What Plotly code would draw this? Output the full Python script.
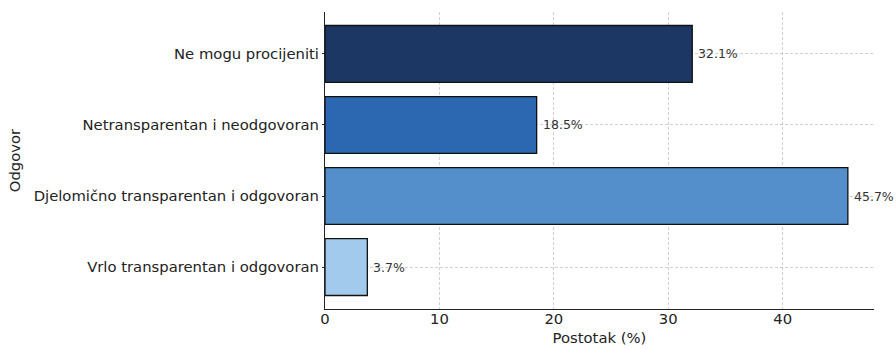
import plotly.graph_objects as go

# Survey answers, bottom to top
categories = [
    "Vrlo transparentan i odgovoran",
    "Djelomično transparentan i odgovoran",
    "Netransparentan i neodgovoran",
    "Ne mogu procijeniti",
]
percentages = [3.7, 45.7, 18.5, 32.1]
bar_colors = ["#a1caec", "#548ecb", "#2b68b1", "#1c3764"]
x_ticks = [0, 10, 20, 30, 40]

FONT = "DejaVu Sans"
TXT = "#222222"
GRID = "rgba(150,150,150,0.45)"

fig = go.Figure()
fig.add_trace(go.Bar(
    y=categories,
    x=percentages,
    orientation="h",
    width=0.8,
    marker=dict(color=bar_colors, line=dict(color="#111111", width=1.3)),
    hoverinfo="skip",
))

# value labels just right of each bar end
for cat, val in zip(categories, percentages):
    fig.add_annotation(
        x=val, y=cat, text=f"{val}%",
        xanchor="left", yanchor="middle", xshift=4, showarrow=False,
        font=dict(family=FONT, size=12.5, color="#333333"),
    )

xmax = max(percentages) * 1.05
fig.update_layout(
    width=896,
    height=349,
    margin=dict(l=325, r=22, t=12, b=40),
    plot_bgcolor="white",
    paper_bgcolor="white",
    showlegend=False,
    font=dict(family=FONT, size=14.8, color=TXT),
)
fig.update_xaxes(
    range=[0, xmax],
    tickvals=x_ticks,
    ticks="",
    ticklabelstandoff=-4,
    tickfont=dict(family=FONT, size=14.8, color=TXT),
    showline=True,
    linecolor=TXT,
    linewidth=1.2,
    showgrid=True,
    gridcolor=GRID,
    griddash="3px,2px",
    gridwidth=0.8,
    zeroline=False,
    layer="above traces",
    automargin=False,
    title=dict(text="Postotak (%)", font=dict(family=FONT, size=14.8, color=TXT), standoff=6),
)
fig.update_yaxes(
    range=[-0.59, 3.59],
    ticks="outside",
    ticklen=2,
    tickcolor=TXT,
    tickfont=dict(family=FONT, size=14.8, color=TXT),
    showline=True,
    linecolor=TXT,
    linewidth=1.2,
    showgrid=True,
    gridcolor=GRID,
    griddash="3px,2px",
    gridwidth=0.8,
    zeroline=False,
    layer="above traces",
    automargin=False,
    title=dict(text="Odgovor", font=dict(family=FONT, size=14.8, color=TXT), standoff=9),
)

fig.write_html("out.html")
